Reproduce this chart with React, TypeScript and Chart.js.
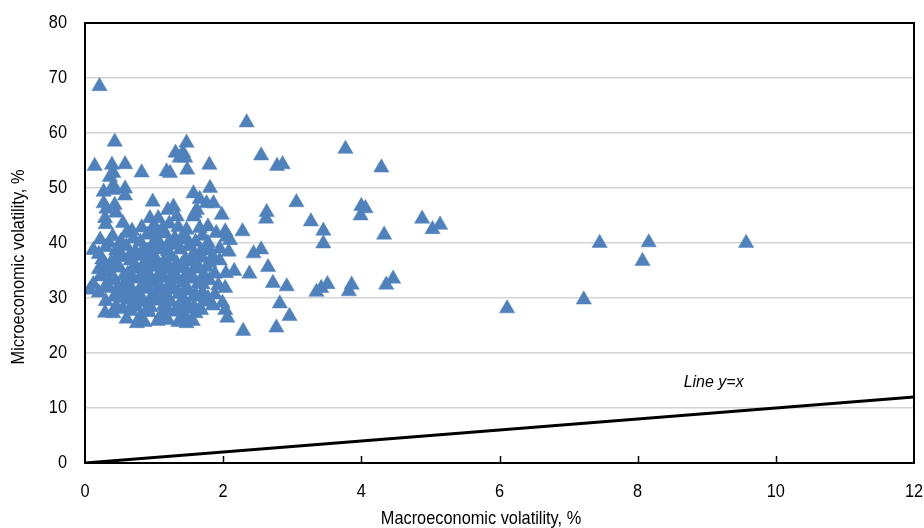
import React, { useEffect, useRef } from "react";
import { Chart, registerables } from "chart.js";

Chart.register(...registerables);

const FONT = "'Liberation Sans Narrow', 'Arial Narrow', 'Liberation Sans', Arial, sans-serif";
const LABEL_FONT = "'Liberation Sans', Arial, sans-serif";
const SQUEEZE = 0.86; // horizontal compression to mimic the narrow face of the original

const xTitle = "Macroeconomic volatility, %";
const yTitle = "Microeconomic volatility, %";
const lineLabel = "Line y=x";
const lineLabelAt = [9.1, 14.6];

const xRange = [0, 12];
const xStep = 2;
const yRange = [0, 80];
const yStep = 10;

const lineYX = [
  [0, 0],
  [12, 12],
];

// Upper part of the cloud (y >= ~44, x < 2)
const upperPoints = [
  [0.21, 68.5], [0.43, 58.4], [1.47, 58.2], [1.31, 56.4], [1.42, 56.4], [1.37, 55.5],
  [1.45, 55.5], [0.14, 54.0], [0.39, 54.2], [0.58, 54.3], [0.82, 52.8], [1.18, 53.0],
  [1.48, 53.3], [1.23, 52.7], [1.8, 54.2], [0.36, 52.0], [0.41, 52.7], [0.41, 50.5],
  [0.27, 49.3], [0.41, 49.6], [0.58, 49.9], [0.58, 48.6], [1.57, 49.0], [1.66, 48.0],
  [1.81, 50.0], [1.76, 47.2], [1.86, 47.2], [0.98, 47.5], [0.27, 47.2], [0.43, 46.9],
  [0.31, 46.2], [1.28, 46.6], [1.2, 46.0], [1.33, 44.8], [1.59, 45.4], [1.57, 44.8],
  [1.98, 45.1], [0.29, 44.5], [0.94, 44.5], [1.06, 44.5], [0.45, 45.5], [1.62, 46.0],
];

// Dense core of the cloud
const clusterPoints = [
  [0.55, 43.6], [0.3, 43.4], [0.82, 42.8], [1.0, 43.2], [1.12, 42.6], [1.22, 43.5],
  [1.35, 42.9], [0.68, 42.2], [1.78, 43.0], [1.9, 41.8],
  [0.22, 40.6], [0.4, 41.2], [0.52, 40.3], [0.7, 40.8], [0.9, 41.5], [1.05, 40.6],
  [1.16, 41.7], [1.3, 40.9], [1.42, 41.3], [1.6, 40.2], [1.78, 40.0], [0.98, 39.8],
  [0.12, 38.7], [0.3, 39.2], [0.45, 38.6], [0.6, 39.4], [0.73, 38.4], [0.85, 39.0],
  [0.95, 38.2], [1.1, 39.3], [1.2, 38.5], [1.28, 39.6], [1.38, 38.8], [1.5, 39.4],
  [1.68, 38.6], [1.95, 39.0],
  [0.25, 37.0], [0.38, 36.5], [0.55, 37.4], [0.66, 36.8], [0.8, 37.6], [0.92, 36.4],
  [1.02, 37.2], [1.14, 36.6], [1.25, 37.5], [1.33, 36.3], [1.45, 37.0], [1.55, 36.6],
  [1.7, 37.3], [1.95, 36.8], [0.48, 37.8],
  [0.2, 35.2], [0.33, 34.6], [0.5, 35.5], [0.62, 34.4], [0.75, 35.3], [0.88, 34.8],
  [0.98, 35.6], [1.08, 34.5], [1.18, 35.2], [1.27, 34.3], [1.36, 35.4], [1.48, 34.6],
  [1.6, 35.3], [1.88, 34.4],
  [0.22, 33.9], [0.12, 32.5], [0.42, 33.2], [0.57, 32.6], [0.7, 33.5], [0.83, 32.4],
  [0.93, 33.3], [1.03, 32.7], [1.13, 33.6], [1.22, 32.5], [1.32, 33.4], [1.42, 32.8],
  [1.52, 33.5], [1.64, 32.6], [1.8, 33.2], [1.93, 32.3],
  [0.07, 31.5], [0.2, 31.0], [0.35, 31.8], [0.5, 30.6], [0.63, 31.4], [0.76, 30.8],
  [0.88, 31.6], [0.97, 30.4], [1.06, 31.2], [1.16, 30.5], [1.26, 31.5], [1.36, 30.7],
  [1.47, 31.3], [1.58, 30.4], [1.7, 31.0], [1.88, 30.6],
  [0.3, 29.4], [0.45, 28.5], [0.62, 29.6], [0.74, 28.4], [0.85, 29.2], [0.95, 28.3],
  [1.04, 29.5], [1.14, 28.6], [1.24, 29.3], [1.35, 28.2], [1.46, 29.0], [1.58, 28.4],
  [1.72, 29.3], [1.85, 28.6],
  [0.29, 27.3], [0.41, 27.2], [0.67, 27.6], [0.8, 26.6], [0.92, 27.4], [1.1, 26.8],
  [1.3, 27.5], [1.45, 26.6], [1.6, 27.2],
  [0.75, 25.4], [1.05, 25.8], [1.47, 25.4], [1.56, 25.8],
];

// Extra overlapping marks that make the core read as a solid mass
const coreFillPoints = [
  [0.35, 40.0], [0.6, 41.8], [0.8, 40.2], [1.0, 42.0], [1.22, 40.2], [1.48, 40.6], [1.7, 41.3],
  [0.2, 38.0], [0.52, 39.8], [0.66, 38.0], [0.9, 38.6], [1.05, 38.8], [1.34, 39.8], [1.58, 38.2],
  [1.8, 38.8], [0.3, 36.0], [0.45, 36.0], [0.72, 36.0], [0.85, 36.2], [1.07, 36.0], [1.2, 36.2],
  [1.4, 36.0], [1.62, 36.2], [1.8, 36.4], [0.4, 34.0], [0.56, 34.0], [0.8, 33.9], [0.93, 34.2],
  [1.13, 34.0], [1.32, 34.0], [1.55, 34.0], [1.72, 34.2], [0.3, 32.2], [0.48, 32.0], [0.65, 32.2],
  [0.88, 32.2], [1.08, 32.2], [1.27, 32.0], [1.47, 32.0], [1.7, 32.5], [0.42, 30.2], [0.57, 30.0],
  [0.7, 30.2], [0.82, 30.0], [1.0, 30.0], [1.2, 30.0], [1.42, 30.0], [1.62, 30.2], [1.78, 30.0],
  [0.55, 28.0], [0.68, 28.6], [0.9, 28.0], [1.2, 27.8], [1.4, 27.6], [1.52, 28.0], [1.68, 27.8],
  [0.6, 26.2], [0.86, 25.6], [1.2, 26.0], [1.35, 25.6],
];

// Points spreading to the right of the cloud (x ~2 to 5)
const midPoints = [
  [2.34, 61.9], [2.55, 55.9], [2.78, 54.0], [2.86, 54.3], [3.77, 57.1], [4.29, 53.7],
  [3.06, 47.4], [2.63, 45.6], [2.62, 44.4], [4.0, 46.7], [4.06, 46.3], [3.99, 45.0],
  [4.88, 44.4], [5.03, 42.5], [5.14, 43.3], [3.27, 43.9], [3.45, 42.2], [3.45, 39.9],
  [4.33, 41.5], [2.28, 42.1], [2.05, 41.1], [2.1, 40.5], [2.08, 38.4], [2.44, 38.1],
  [2.55, 38.8], [2.65, 35.6], [2.38, 34.4], [2.16, 34.9], [2.04, 34.5], [2.03, 31.8],
  [2.72, 32.7], [2.92, 32.1], [3.35, 31.1], [3.42, 31.8], [3.51, 32.5], [3.82, 31.2],
  [3.86, 32.4], [4.36, 32.4], [4.46, 33.5], [2.82, 29.0], [2.96, 26.7], [2.77, 24.6],
  [2.29, 24.0], [1.99, 29.1], [2.03, 27.8], [2.06, 26.4], [1.85, 37.5], [1.76, 35.6],
  [1.47, 42.4], [1.66, 42.7], [2.03, 42.1],
];

// Far outliers
const outlierPoints = [
  [6.11, 28.1], [7.22, 29.7], [7.45, 40.0], [8.16, 40.1], [8.07, 36.7], [9.57, 40.0],
];

const toXY = (arr: number[][]) => arr.map(([x, y]) => ({ x, y }));

function narrowText(ctx: any, text: string, x: number, y: number, align: string) {
  ctx.save();
  ctx.translate(x, y);
  ctx.scale(SQUEEZE, 1);
  ctx.textAlign = align;
  ctx.textBaseline = "middle";
  ctx.fillText(text, 0, 0);
  ctx.restore();
}

const framePlugin = {
  id: "framePlugin",
  afterDraw(chart: any) {
    const { ctx, chartArea: a, scales } = chart;
    const xs = scales.x;
    const ys = scales.y;
    ctx.save();
    // inward tick marks on x axis
    ctx.strokeStyle = "#000";
    ctx.lineWidth = 1.5;
    xs.ticks.forEach((t: any) => {
      if (t.value <= xRange[0] || t.value >= xRange[1]) return;
      const px = Math.round(xs.getPixelForValue(t.value)) + 0.5;
      ctx.beginPath();
      ctx.moveTo(px, a.bottom);
      ctx.lineTo(px, a.bottom - 7);
      ctx.stroke();
    });
    // frame
    ctx.lineWidth = 2;
    ctx.strokeRect(a.left, a.top, a.right - a.left, a.bottom - a.top);
    // tick labels
    ctx.fillStyle = "#000";
    ctx.font = `19px ${FONT}`;
    ys.ticks.forEach((t: any) => {
      narrowText(ctx, String(t.value), a.left - 18, ys.getPixelForValue(t.value), "right");
    });
    xs.ticks.forEach((t: any) => {
      narrowText(ctx, String(t.value), xs.getPixelForValue(t.value), a.bottom + 29, "center");
    });
    // axis titles
    ctx.font = `19px ${FONT}`;
    narrowText(ctx, xTitle, 481, 519, "center");
    ctx.save();
    ctx.translate(19, 267);
    ctx.rotate(-Math.PI / 2);
    narrowText(ctx, yTitle, 0, 0, "center");
    ctx.restore();
    // line label
    ctx.font = `italic 16px ${LABEL_FONT}`;
    ctx.textAlign = "center";
    ctx.textBaseline = "middle";
    ctx.fillText(lineLabel, xs.getPixelForValue(lineLabelAt[0]), ys.getPixelForValue(lineLabelAt[1]));
    ctx.restore();
  },
};

export default function App() {
  const ref = useRef<HTMLCanvasElement | null>(null);
  useEffect(() => {
    document.body.style.margin = "0";
    const canvas = ref.current;
    if (!canvas) return;
    const blue = "#4F81BD";
    const chart = new Chart(canvas, {
      type: "scatter",
      data: {
        datasets: [
          {
            label: "Countries",
            data: toXY([
              ...upperPoints,
              ...clusterPoints,
              ...coreFillPoints,
              ...midPoints,
              ...outlierPoints,
            ]),
            pointStyle: "triangle",
            pointRadius: 8.8,
            pointBackgroundColor: blue,
            pointBorderColor: blue,
            pointBorderWidth: 0.5,
            backgroundColor: blue,
            borderColor: blue,
          },
          {
            label: "Line y=x",
            data: toXY(lineYX),
            showLine: true,
            pointRadius: 0,
            borderColor: "#000",
            borderWidth: 3,
            backgroundColor: "#000",
          },
        ],
      },
      options: {
        animation: false,
        responsive: true,
        maintainAspectRatio: false,
        layout: { padding: { left: 0, top: 23, right: 10, bottom: 0 } },
        plugins: {
          legend: { display: false },
          tooltip: { enabled: false },
          title: { display: false },
        },
        scales: {
          x: {
            type: "linear",
            min: xRange[0],
            max: xRange[1],
            afterFit: (s: any) => {
              s.height = 65;
            },
            ticks: { stepSize: xStep, display: false },
            grid: { display: false, drawTicks: false },
            border: { display: false },
          },
          y: {
            type: "linear",
            min: yRange[0],
            max: yRange[1],
            afterFit: (s: any) => {
              s.width = 85;
            },
            ticks: { stepSize: yStep, display: false },
            grid: { color: "#d4d4d4", lineWidth: 1.5, drawTicks: false },
            border: { display: false },
          },
        },
      },
      plugins: [framePlugin],
    });
    return () => chart.destroy();
  }, []);
  return (
    <div style={{ width: 924, height: 528, position: "relative" }}>
      <canvas ref={ref} />
    </div>
  );
}
